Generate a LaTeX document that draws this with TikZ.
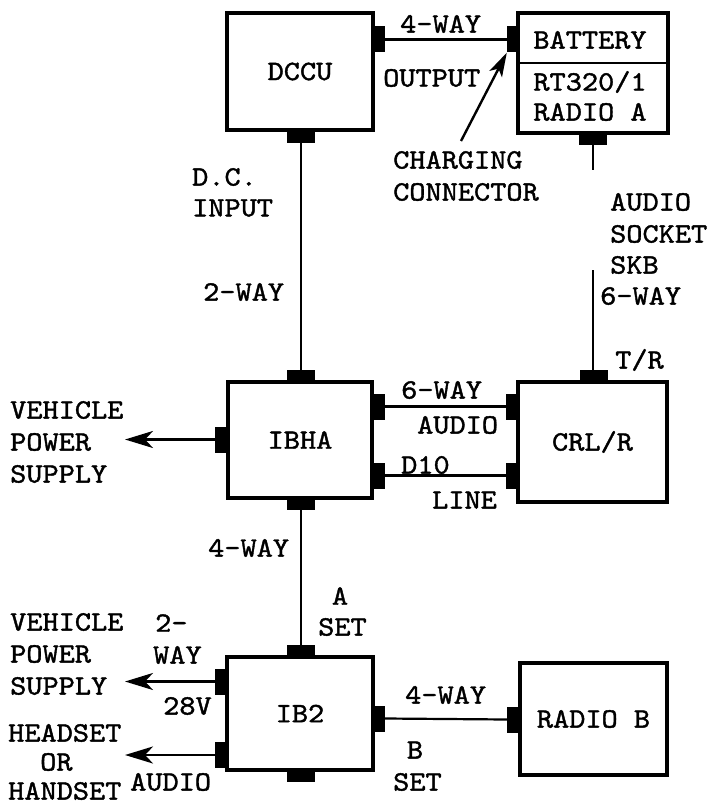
\documentclass[tikz,border=0pt]{standalone}
\usepackage{fontspec}
\newfontfamily\twfam{lmmono10-regular.otf}[FakeBold=1.4,FakeStretch=1.1]
\usetikzlibrary{arrows.meta}
\begin{document}
\begin{tikzpicture}[x=1pt,y=-1pt,
  unit/.style={draw,line width=3.2pt,inner sep=0pt,font=\tw},
  hplug/.style={fill,inner sep=0pt,minimum width=12pt,minimum height=26pt},
  vplug/.style={fill,inner sep=0pt,minimum width=28pt,minimum height=12pt},
  wire/.style={line width=2.2pt},
  outarrow/.style={line width=2.8pt,-{Stealth[length=28pt,width=17pt,inset=8pt]}},
  lbl/.style={inner sep=0pt,anchor=west,font=\tw}]
\newcommand{\tw}{\twfam\fontsize{28}{30}\selectfont}
\useasboundingbox (0,0) rectangle (716,805);
% units
\node[unit,minimum width=146pt,minimum height=117pt] (dccu) at (300,71.5) {DCCU};
\node[unit,minimum width=150pt,minimum height=120pt] (bat) at (593,73) {};
\draw[line width=2.5pt] (bat.west |- 0,63) -- (bat.east |- 0,63);
\node[lbl,anchor=center] (batt) at (590,40) {BATTERY};
\node[lbl,anchor=center] (rt) at (590,82) {RT320/1};
\node[lbl,anchor=center] (ra) at (590,112) {RADIO A};
\node[unit,minimum width=144pt,minimum height=116pt] (ibha) at (300,440) {IBHA};
\node[unit,minimum width=149pt,minimum height=120pt] (crl) at (592.5,442) {CRL/R};
\node[unit,minimum width=146pt,minimum height=113pt] (ib2) at (300,713.5) {IB2};
\node[unit,minimum width=147pt,minimum height=112pt] (radb) at (593.5,719) {RADIO B};
% plugs
\node[hplug] (dccuR) at (379,39.5) {};
\node[vplug] (dccuB) at (301,137) {};
\node[hplug] (batL) at (513,39.5) {};
\node[vplug] (batB) at (593,139) {};
\node[vplug] (ibhaT) at (301,376) {};
\node[hplug] (ibhaL) at (221,439.5) {};
\node[hplug] (ibhaR1) at (379,406.5) {};
\node[hplug] (ibhaR2) at (379,475.5) {};
\node[vplug] (ibhaB) at (301,504) {};
\node[vplug] (crlT) at (594,376) {};
\node[hplug] (crlL1) at (512,406.5) {};
\node[hplug] (crlL2) at (512,475.5) {};
\node[vplug] (ib2T) at (301,651) {};
\node[hplug] (ib2L1) at (221,681.5) {};
\node[hplug] (ib2L2) at (221,755) {};
\node[hplug] (ib2R) at (379,718.5) {};
\node[vplug] (ib2B) at (301,776) {};
\node[hplug] (radbL) at (513,719.5) {};
% free ends
\coordinate (skb1) at (593,170);
\coordinate (skb2) at (593,270);
\coordinate (vps1) at (125,439.5);
\coordinate (vps2) at (125,681.5);
\coordinate (hs) at (125,755);
\coordinate (chg) at (461,141);
% wires
\draw[wire] (dccuR.east) -- (batL.west);
\draw[wire] (dccuB.south) -- (ibhaT.north);
\draw[line width=1.6pt] (batB.south) -- (skb1);
\draw[line width=1.6pt] (skb2) -- (crlT.north -| skb2);
\draw[wire] (ibhaR1.east) -- (crlL1.west);
\draw[wire] (ibhaR2.east) -- (crlL2.west);
\draw[wire] (ibhaB.south) -- (ib2T.north);
\draw[wire] (ib2R.east) -- (radbL.west);
\draw[outarrow] (ibhaL.west) -- (vps1);
\draw[outarrow] (ib2L1.west) -- (vps2);
\draw[outarrow] (ib2L2.west) -- (hs);
\draw[line width=2.4pt,-{Stealth[length=24pt,width=14pt,inset=6pt]}] (chg) -- (batL.south west);
% labels
\node[lbl] (t1) at (400,24) {4-WAY};
\node[lbl] (t2) at (383,78) {OUTPUT};
\node[lbl] (t3) at (393,160) {CHARGING};
\node[lbl] (t4) at (393,192) {CONNECTOR};
\node[lbl] (t5) at (610,202) {AUDIO};
\node[lbl] (t6) at (610,234) {SOCKET};
\node[lbl] (t7) at (610,265) {SKB};
\node[lbl] (t8) at (192,177) {D.C.};
\node[lbl] (t9) at (192,208) {INPUT};
\node[lbl] (t10) at (203,292) {2-WAY};
\node[lbl] (t11) at (600,296) {6-WAY};
\node[lbl] (t12) at (615,360) {T/R};
\node[lbl] (t13) at (401,390) {6-WAY};
\node[lbl] (t14) at (417,425) {AUDIO};
\node[lbl] (t15) at (401,465) {D10};
\node[lbl] (t16) at (432,500) {LINE};
\node[lbl] (t17) at (10,410) {VEHICLE};
\node[lbl] (t18) at (10,442) {POWER};
\node[lbl] (t19) at (10,474) {SUPPLY};
\node[lbl] (t20) at (208,548) {4-WAY};
\node[lbl,anchor=center] (t21) at (340,596) {A};
\node[lbl] (t22) at (318,627) {SET};
\node[lbl] (t23) at (10,622) {VEHICLE};
\node[lbl] (t24) at (10,654) {POWER};
\node[lbl] (t25) at (10,686) {SUPPLY};
\node[lbl] (t26) at (155,623) {2-};
\node[lbl] (t27) at (153,655) {WAY};
\node[lbl] (t28) at (163,706) {28V};
\node[lbl] (t29) at (8,733) {HEADSET};
\node[lbl] (t30) at (40,762) {OR};
\node[lbl] (t31) at (8,791) {HANDSET};
\node[lbl] (t32) at (130,782) {AUDIO};
\node[lbl] (t33) at (405,695) {4-WAY};
\node[lbl,anchor=center] (t34) at (415,750) {B};
\node[lbl] (t35) at (393,782) {SET};
\end{tikzpicture}
\end{document}
